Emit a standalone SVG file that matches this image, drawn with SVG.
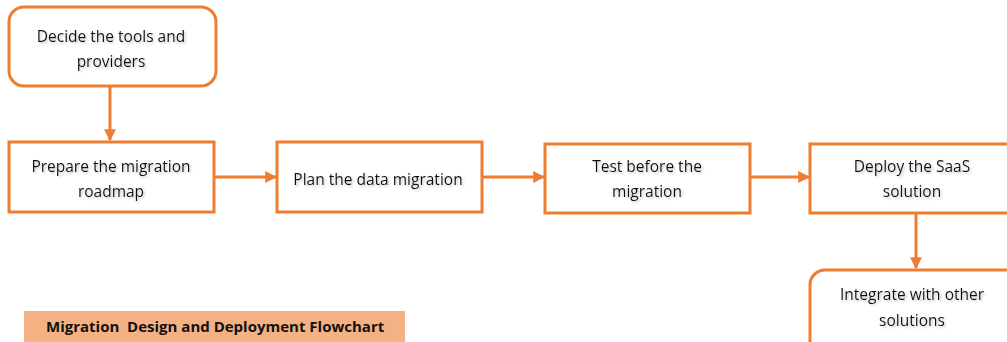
<svg xmlns="http://www.w3.org/2000/svg" width="1007" height="342" viewBox="0 0 1007 342">
  <style>
    .box { fill: #FFFFFF; stroke: #ED7D31; stroke-width: 3; }
    .lbl { font-family: "Open Sans", "Liberation Sans", sans-serif; font-size: 15.5px; fill: #111111; text-anchor: middle; filter: url(#soft); }
    .wire { fill: none; stroke: #ED7D31; stroke-width: 3; marker-end: url(#head); }
    .cap { font-family: "Open Sans", "Liberation Sans", sans-serif; font-size: 15px; font-weight: bold; fill: #111111; white-space: pre; }
  </style>
  <defs>
    <marker id="head" viewBox="0 0 10 10" refX="9" refY="5" markerWidth="4" markerHeight="4" orient="auto" markerUnits="strokeWidth">
      <path d="M0,0 L10,5 L0,10 z" fill="#ED7D31"/>
    </marker>
    <filter id="soft" x="-10%" y="-30%" width="130%" height="170%">
      <feDropShadow dx="1.5" dy="1.5" stdDeviation="1" flood-color="#808080" flood-opacity="0.45"/>
    </filter>
  </defs>
  <rect width="1007" height="342" fill="#FFFFFF"/>

  <g id="connectors">
    <path class="wire" d="M110,86 L110,140"/>
    <path class="wire" d="M214,177 L276,177"/>
    <path class="wire" d="M482,177 L544,177"/>
    <path class="wire" d="M750,177 L809,177"/>
    <path class="wire" d="M916,213 L916,268"/>
  </g>

  <g id="decide">
    <rect class="box" x="9" y="7" width="207" height="79" rx="15"/>
    <text class="lbl" x="111" y="42">Decide the tools and</text>
    <text class="lbl" x="111" y="67">providers</text>
  </g>

  <g id="prepare">
    <rect class="box" x="9" y="142" width="205" height="70"/>
    <text class="lbl" x="111" y="172">Prepare the migration</text>
    <text class="lbl" x="111" y="197">roadmap</text>
  </g>

  <g id="plan">
    <rect class="box" x="277" y="142" width="205" height="70"/>
    <text class="lbl" x="378" y="185">Plan the data migration</text>
  </g>

  <g id="test">
    <rect class="box" x="545" y="144" width="205" height="69"/>
    <text class="lbl" x="647" y="172">Test before the</text>
    <text class="lbl" x="647" y="197">migration</text>
  </g>

  <g id="deploy">
    <rect class="box" x="810" y="144" width="210" height="69"/>
    <text class="lbl" x="912" y="172">Deploy the SaaS</text>
    <text class="lbl" x="912" y="197">solution</text>
  </g>

  <g id="integrate">
    <rect class="box" x="810" y="270" width="220" height="90" rx="15"/>
    <text class="lbl" x="912" y="300">Integrate with other</text>
    <text class="lbl" x="912" y="326">solutions</text>
  </g>

  <g id="caption">
    <rect x="24" y="311" width="381" height="31" fill="#F4B183"/>
    <text class="cap" x="46" y="332" xml:space="preserve">Migration  Design and Deployment Flowchart</text>
  </g>
</svg>
